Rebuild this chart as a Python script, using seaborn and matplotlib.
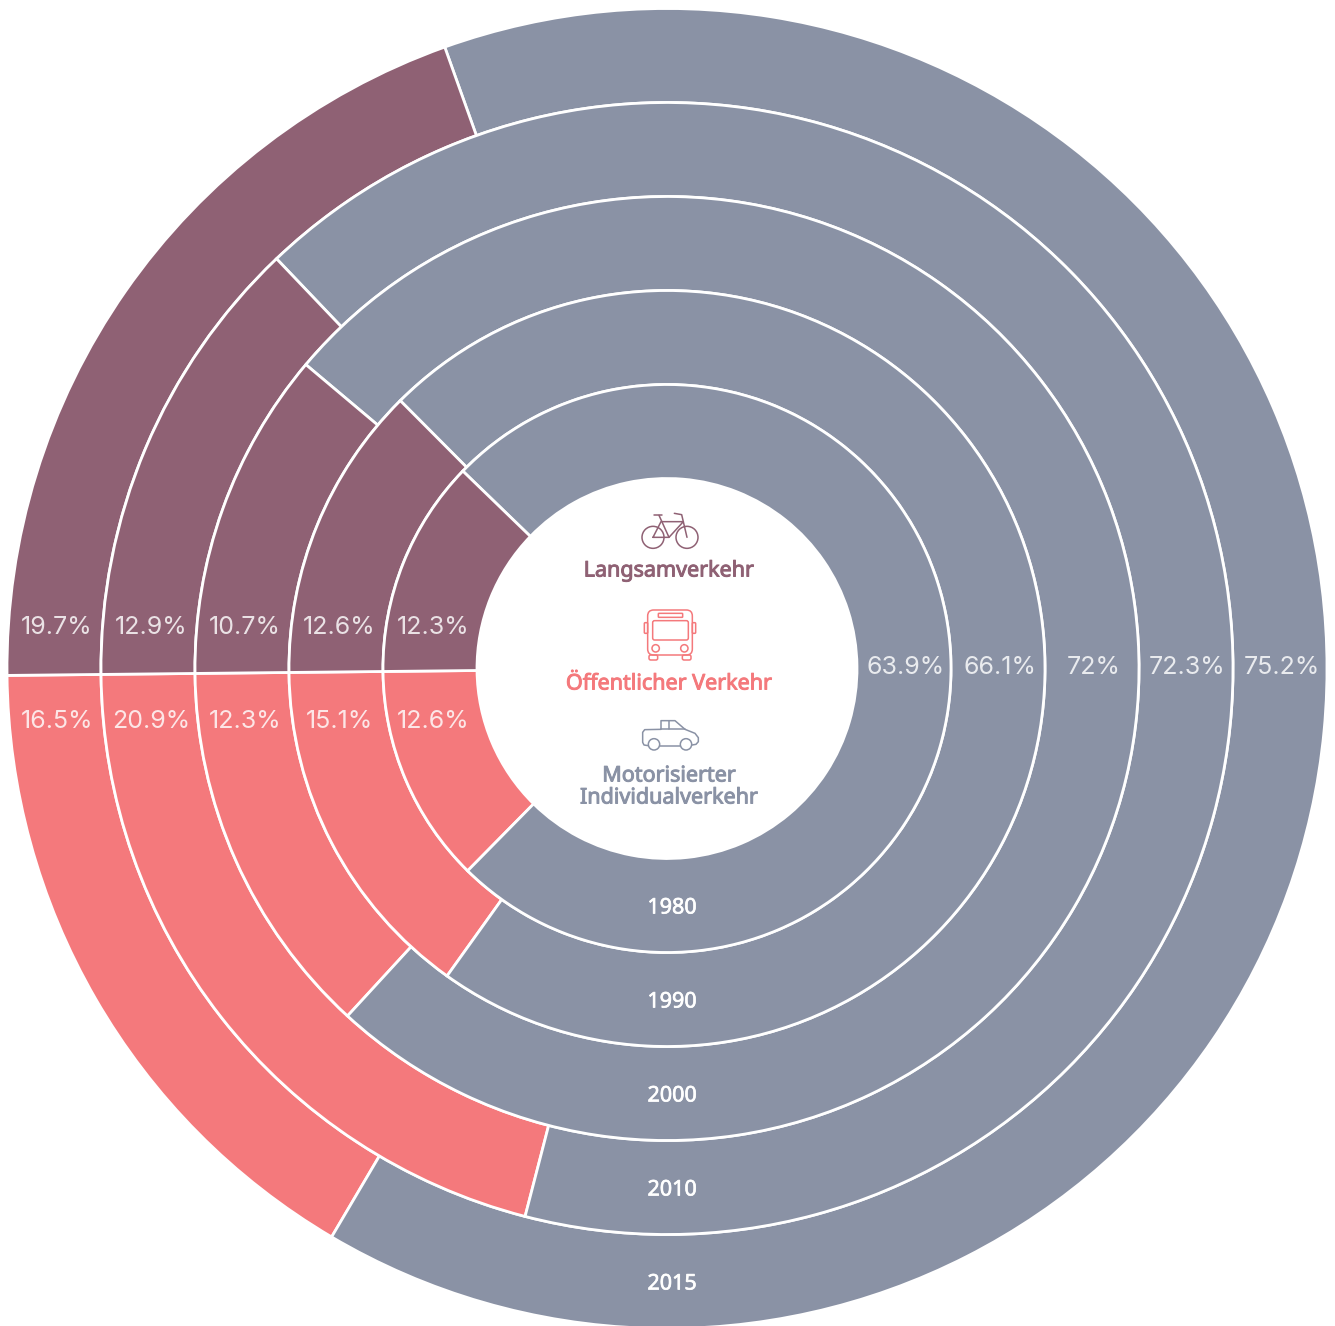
#<<--- Anillos: reparto modal por ano --->>#
import matplotlib as mlp
mlp.use('Agg')
import matplotlib.pyplot as plt
import matplotlib.patheffects as pe
from matplotlib.patches import Circle, FancyBboxPatch
import seaborn as sns

years = ['1980', '1990', '2000', '2010', '2015']
motor_labels = ['63.9%', '66.1%', '72%', '72.3%', '75.2%']
slow_labels = ['12.3%', '12.6%', '10.7%', '12.9%', '19.7%']
public_labels = ['12.6%', '15.1%', '12.3%', '20.9%', '16.5%']

# shares as drawn in the picture (2000 is wider than its label)
slow_share = [12.4, 12.7, 11.3, 13.05, 19.7]
public_share = [12.45, 14.95, 13.0, 20.8, 16.35]

GREY = '#8A92A5'
MAROON = '#8F6174'
RED = '#F4797C'

W, H = 1335, 1326
CX, CY = 667, 668.5
R0 = 190
STEP = 94

sns.set_theme(style='white')
plt.rcParams['font.family'] = ['Inter', 'DejaVu Sans']

fig = plt.figure(figsize=(W / 100, H / 100), dpi=100)
ax = fig.add_axes([0, 0, 1, 1])


def Y(y):
    return H - y


#>> Anillos, de fuera hacia dentro
for i in range(len(years) - 1, -1, -1):
    outer = R0 + STEP * (i + 1)
    grey = 100 - slow_share[i] - public_share[i]
    ax.pie([public_share[i], grey, slow_share[i]],
           colors=[RED, GREY, MAROON],
           startangle=180.6,
           radius=outer,
           center=(CX, Y(CY)),
           frame=True,
           wedgeprops=dict(width=STEP, edgecolor='white', linewidth=2.0))

ax.set_xlim(0, W)
ax.set_ylim(0, H)
ax.set_aspect('equal')
ax.axis('off')

#>> Etiquetas
for i, year in enumerate(years):
    mid = R0 + STEP * (i + 0.5)
    pct = dict(color='white', alpha=0.82, fontsize=18, ha='center', va='center')
    ax.text(CX + mid + 1.5, Y(667), motor_labels[i], **pct)
    ax.text(CX - mid + 3, Y(627), slow_labels[i], **pct)
    ax.text(CX - mid + 3, Y(722), public_labels[i], **pct)
    t = ax.text(672, Y(CY + mid + 2.5), year, color='white', fontsize=15.5,
                family=['Noto Sans', 'DejaVu Sans'], ha='center', va='center')
    t.set_path_effects([pe.withStroke(linewidth=0.5, foreground='white')])

title = dict(fontsize=15.5, family=['Noto Sans', 'DejaVu Sans'], ha='center', va='center')
for txt, y, col in [('Langsamverkehr', 571, MAROON), ('Öffentlicher Verkehr', 684, RED),
                    ('Motorisierter', 776, GREY), ('Individualverkehr', 798, GREY)]:
    t = ax.text(669, Y(y), txt, color=col, **title)
    t.set_path_effects([pe.withStroke(linewidth=0.7, foreground=col)])


#>> Iconos (coordenadas del recorte ampliado x3)
def icon_line(ox, oy, pts, color, lw=1.1):
    ax.plot([ox + p[0] / 3 for p in pts], [Y(oy + p[1] / 3) for p in pts],
            color=color, lw=lw, solid_capstyle='round', solid_joinstyle='round')


def icon_circle(ox, oy, x, y, r, color, lw=1.1):
    ax.add_patch(Circle((ox + x / 3, Y(oy + y / 3)), r / 3, fill=False, edgecolor=color, lw=lw))


def icon_box(ox, oy, x0, y0, x1, y1, color, rad=6, lw=1.1):
    ax.add_patch(FancyBboxPatch((ox + x0 / 3, Y(oy + y1 / 3)), (x1 - x0) / 3, (y1 - y0) / 3,
                                boxstyle='round,pad=0,rounding_size=%.1f' % (rad / 3),
                                fill=False, edgecolor=color, lw=lw))


# bici
icon_circle(560, 500, 279, 112, 33, MAROON)
icon_circle(560, 500, 381, 112, 33, MAROON)
icon_line(560, 500, [(279, 112), (327, 112), (370, 65), (303, 65), (279, 112)], MAROON)
icon_line(560, 500, [(297, 46), (327, 112)], MAROON)
icon_line(560, 500, [(283, 46), (307, 46)], MAROON)
icon_line(560, 500, [(343, 40), (365, 44), (381, 112)], MAROON)

# bus
icon_box(555, 600, 278, 30, 412, 165, RED, rad=18)
icon_box(555, 600, 293, 62, 400, 120, RED, rad=6)
icon_box(555, 600, 310, 40, 383, 52, RED, rad=2)
icon_box(555, 600, 268, 68, 278, 100, RED, rad=3)
icon_box(555, 600, 412, 68, 422, 100, RED, rad=3)
icon_box(555, 600, 282, 165, 308, 180, RED, rad=5)
icon_box(555, 600, 382, 165, 408, 180, RED, rad=5)
icon_circle(555, 600, 302, 145, 11, RED)
icon_circle(555, 600, 388, 145, 11, RED)

# coche
icon_line(560, 705, [(265, 122), (252, 120), (248, 112), (248, 82), (254, 74), (303, 73), (303, 47),
                     (345, 47), (375, 73), (405, 85), (415, 98), (415, 110), (408, 118), (396, 120)], GREY)
icon_line(560, 705, [(300, 122), (360, 122)], GREY)
icon_line(560, 705, [(303, 73), (375, 73)], GREY)
icon_line(560, 705, [(328, 47), (328, 73)], GREY)
icon_circle(560, 705, 282, 118, 17, GREY)
icon_circle(560, 705, 378, 118, 17, GREY)

fig.savefig('out.png', dpi=100, facecolor='white')
